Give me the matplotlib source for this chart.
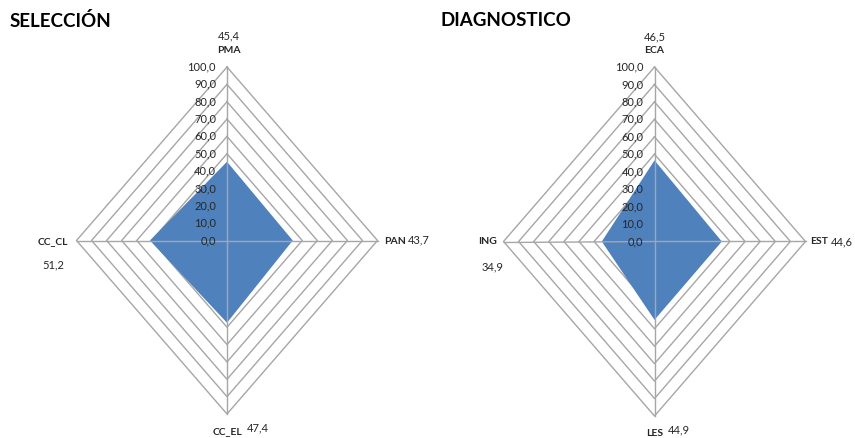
import numpy as np
import matplotlib
matplotlib.use("Agg")
import matplotlib.pyplot as plt

FONT = ['Lato', 'DejaVu Sans']

# ---- data ----
sel_title = "SELECCIÓN"
sel_categories = ["PMA", "PAN", "CC_EL", "CC_CL"]
sel_values = [45.4, 43.7, 47.4, 51.2]

diag_title = "DIAGNOSTICO"
diag_categories = ["ECA", "EST", "LES", "ING"]
diag_values = [46.5, 44.6, 44.9, 34.9]

ticks = [0, 10, 20, 30, 40, 50, 60, 70, 80, 90, 100]
tick_labels = ["0,0", "10,0", "20,0", "30,0", "40,0", "50,0", "60,0", "70,0", "80,0", "90,0", "100,0"]

W, H = 855, 438
fig = plt.figure(figsize=(W / 100, H / 100), dpi=100)

GRID = "#A6A6A6"
FILL = "#4F81BD"
TXT = "#262626"

def fmt(v):
    return f"{v:.1f}".replace(".", ",")

def radar(x0, x1, cx, cy, rx, ry, title, cats, vals, label_specs):
    ax = fig.add_axes([x0 / W, 0, (x1 - x0) / W, 1])
    sx = rx / 100.0
    sy = ry / 100.0
    ax.set_xlim((x0 - cx) / sx, (x1 - cx) / sx)
    ax.set_ylim((cy - H) / sy, cy / sy)
    ax.axis("off")
    ang = np.array([0, 90, 180, 270]) * np.pi / 180
    dx = np.sin(ang)
    dy = np.cos(ang)
    for t in ticks[1:]:
        xs = np.append(t * dx, t * dx[0])
        ys = np.append(t * dy, t * dy[0])
        ax.plot(xs, ys, color=GRID, lw=1.0, zorder=1)
    v = np.array(vals)
    ax.fill(v * dx, v * dy, color=FILL, zorder=2, lw=0)
    for i in range(4):
        ax.plot([0, 100 * dx[i]], [0, 100 * dy[i]], color=GRID, lw=1.0, zorder=3)
    for t, lab in zip(ticks, tick_labels):
        ax.text(-11 / sx, t, lab, ha="right", va="center", fontsize=8,
                family=FONT, color=TXT, zorder=4)
    ax.text((x0 + 10 - cx) / sx, (cy - 21) / sy, title, ha="left", va="center",
            fontsize=13.5, fontweight="bold", family=FONT, color="black")
    for cat, val, (lx, ly, lha, vx, vy, vha) in zip(cats, vals, label_specs):
        ax.text(lx / sx, ly / sy, cat, ha=lha, va="center", fontsize=7.5,
                fontweight="bold", family=FONT, color=TXT)
        ax.text(vx / sx, vy / sy, fmt(val), ha=vha, va="center", fontsize=8,
                family=FONT, color=TXT)

sel_specs = [
    (2, 190, "center", 2, 204.5, "center"),     # PMA
    (157, -0.5, "left", 181, 1, "left"),        # PAN
    (0, -191, "center", 20, -187.5, "left"),    # CC_EL
    (-159, -1.5, "right", -174, -24.5, "center"),  # CC_CL
]
diag_specs = [
    (0, 191, "center", 0, 205, "center"),       # ECA
    (155.5, -0.5, "left", 176, -0.5, "left"),   # EST
    (0, -191.5, "center", 13.5, -188.5, "left"),  # LES
    (-158, -0.5, "right", -162, -25.5, "center"),  # ING
]

radar(0, 430, 227, 240.5, 150.5, 173.5, sel_title, sel_categories, sel_values, sel_specs)
radar(430, 855, 654.5, 241.5, 151, 174.5, diag_title, diag_categories, diag_values, diag_specs)

fig.savefig("out.png", dpi=100)
